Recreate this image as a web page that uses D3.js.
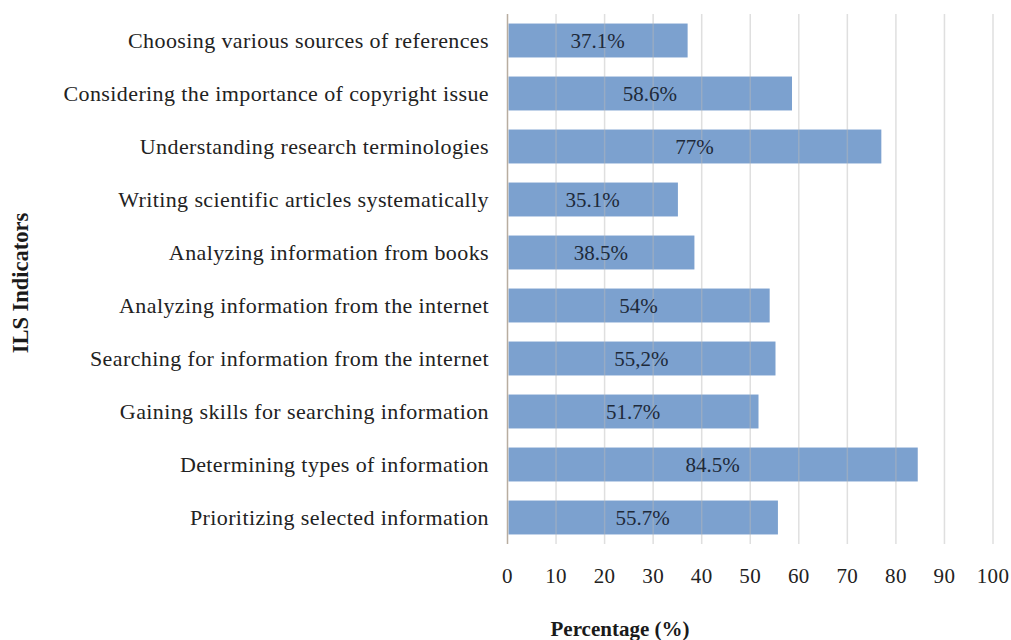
<!DOCTYPE html>
<html><head><meta charset="utf-8">
<script src="https://cdn.jsdelivr.net/npm/d3@7"></script>
<style>body{margin:0;background:#fff}</style>
</head><body>
<svg id="c" width="1011" height="640"></svg>
<script>
const categories = [
  "Choosing various sources of references",
  "Considering the importance of copyright issue",
  "Understanding research terminologies",
  "Writing scientific articles systematically",
  "Analyzing information from books",
  "Analyzing information from the internet",
  "Searching for information from the internet",
  "Gaining skills for searching information",
  "Determining types of information",
  "Prioritizing selected information"
];
const values = [37.1, 58.6, 77, 35.1, 38.5, 54, 55.2, 51.7, 84.5, 55.7];
const valueLabels = ["37.1%", "58.6%", "77%", "35.1%", "38.5%", "54%", "55,2%", "51.7%", "84.5%", "55.7%"];
const xTicks = [0, 10, 20, 30, 40, 50, 60, 70, 80, 90, 100];

const svg = d3.select("#c");
const W = 1011, H = 640;
const m = {left: 507.5, right: W - 993, top: 14, bottom: H - 544};
const font = "'Liberation Serif', serif";

const x = d3.scaleLinear().domain([0, 100]).range([m.left, W - m.right]);
const y = d3.scaleBand().domain(categories).range([m.top, H - m.bottom]).paddingInner(0.36).paddingOuter(0.18);

svg.append("g").selectAll("rect").data(values).join("rect")
  .attr("x", x(0) + 1)
  .attr("y", (d, i) => y(categories[i]))
  .attr("width", d => x(d) - x(0) - 1)
  .attr("height", y.bandwidth())
  .attr("fill", "#7ca1cf");

svg.append("g").selectAll("line").data(xTicks.filter(t => t > 0)).join("line")
  .attr("x1", d => x(d)).attr("x2", d => x(d))
  .attr("y1", m.top).attr("y2", H - m.bottom)
  .attr("stroke", "#b8b8b8").attr("stroke-opacity", 0.45).attr("stroke-width", 1.5);

svg.append("line").attr("x1", x(0)).attr("x2", x(0)).attr("y1", m.top).attr("y2", H - m.bottom)
  .attr("stroke", "#b8ada0").attr("stroke-width", 1.5);

svg.append("g").selectAll("text").data(xTicks).join("text")
  .attr("x", d => x(d)).attr("y", 583)
  .attr("text-anchor", "middle")
  .attr("font-family", font).attr("font-size", 21).attr("letter-spacing", 0.4).attr("fill", "#222")
  .text(d => d);

svg.append("g").selectAll("text").data(categories).join("text")
  .attr("x", 489).attr("y", d => y(d) + y.bandwidth() / 2)
  .attr("dy", "0.35em")
  .attr("text-anchor", "end")
  .attr("font-family", font).attr("font-size", 22).attr("letter-spacing", 0.4).attr("fill", "#222")
  .text(d => d);

svg.append("g").selectAll("text").data(values).join("text")
  .attr("x", d => (x(0) + x(d)) / 2)
  .attr("y", (d, i) => y(categories[i]) + y.bandwidth() / 2)
  .attr("dy", "0.35em")
  .attr("text-anchor", "middle")
  .attr("font-family", font).attr("font-size", 21).attr("fill", "#1e2a3a")
  .text((d, i) => valueLabels[i]);

svg.append("text").attr("x", 620).attr("y", 636)
  .attr("text-anchor", "middle")
  .attr("font-family", font).attr("font-size", 21).attr("font-weight", "bold").attr("fill", "#1a1a1a")
  .text("Percentage (%)");

svg.append("text").attr("transform", "translate(28,283) rotate(-90)")
  .attr("text-anchor", "middle")
  .attr("font-family", font).attr("font-size", 22.5).attr("font-weight", "bold").attr("fill", "#1a1a1a")
  .text("ILS Indicators");
</script>
</body></html>
